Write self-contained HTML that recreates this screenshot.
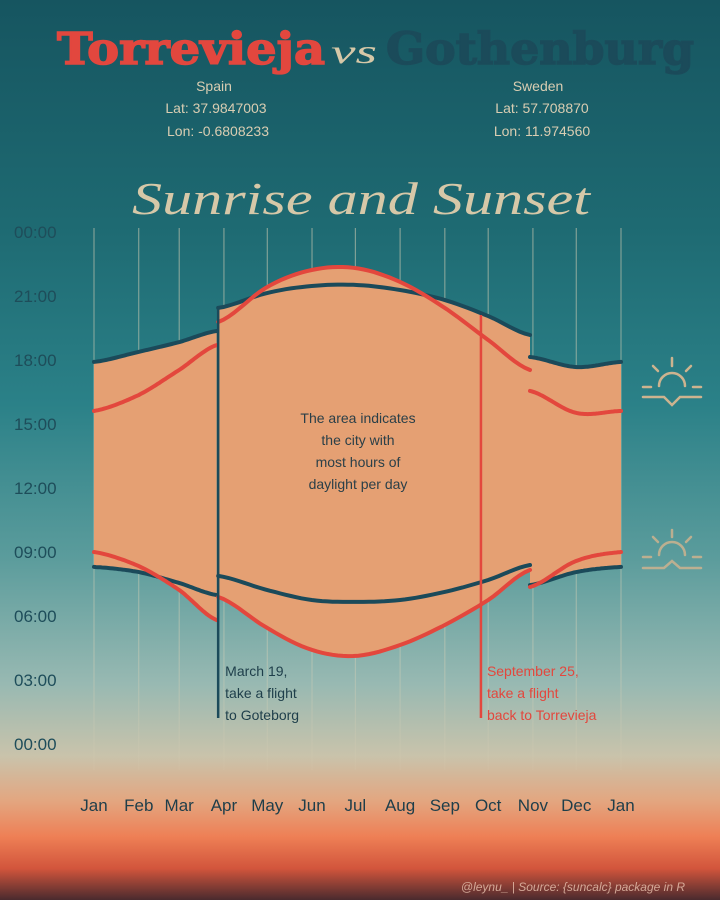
<!DOCTYPE html>
<html><head><meta charset="utf-8">
<style>
html,body{margin:0;padding:0;}
body{width:720px;height:900px;overflow:hidden;font-family:"Liberation Sans",sans-serif;}
</style></head>
<body>
<svg id="chart" width="720" height="900" viewBox="0 0 720 900" xmlns="http://www.w3.org/2000/svg">
<defs>
<linearGradient id="bg" x1="0" y1="0" x2="0" y2="1">
<stop offset="0" stop-color="#165560"/>
<stop offset="0.25" stop-color="#1e6a72"/>
<stop offset="0.45" stop-color="#2b8188"/>
<stop offset="0.62" stop-color="#5b9c9c"/>
<stop offset="0.76" stop-color="#98b9b2"/>
<stop offset="0.84" stop-color="#c9c3ab"/>
<stop offset="0.89" stop-color="#e3a680"/>
<stop offset="0.93" stop-color="#ee7f55"/>
<stop offset="0.965" stop-color="#d2553c"/>
<stop offset="1" stop-color="#4a2a2e"/>
</linearGradient>
<linearGradient id="gridfade" x1="0" y1="228" x2="0" y2="770" gradientUnits="userSpaceOnUse">
<stop offset="0" stop-color="#e0d4b8" stop-opacity="0.6"/>
<stop offset="0.8" stop-color="#e0d4b8" stop-opacity="0.45"/>
<stop offset="1" stop-color="#e0d4b8" stop-opacity="0.1"/>
</linearGradient>
</defs>
<rect x="0" y="0" width="720" height="900" fill="url(#bg)"/>

<text x="57" y="64" textLength="268" lengthAdjust="spacingAndGlyphs" font-family="'DejaVu Serif',serif" font-weight="bold" font-size="44" fill="#e2473e" stroke="#e2473e" stroke-width="1.5">Torrevieja</text>
<text x="331" y="63" textLength="46" lengthAdjust="spacingAndGlyphs" font-family="'Liberation Serif',serif" font-style="italic" font-size="34" fill="#d6c8a8">vs</text>
<text x="386" y="64" textLength="308" lengthAdjust="spacingAndGlyphs" font-family="'DejaVu Serif',serif" font-weight="bold" font-size="44" fill="#1b4b5a" stroke="#1b4b5a" stroke-width="1.5">Gothenburg</text>

<g font-size="14" fill="#d9cdb2" text-anchor="middle">
<text x="214" y="91">Spain</text>
<text x="216" y="113">Lat: 37.9847003</text>
<text x="218" y="136">Lon: -0.6808233</text>
</g>
<g font-size="14" fill="#d9cdb2" text-anchor="middle">
<text x="538" y="91">Sweden</text>
<text x="542" y="113">Lat: 57.708870</text>
<text x="542" y="136">Lon: 11.974560</text>
</g>
<text x="132" y="214" textLength="458" lengthAdjust="spacingAndGlyphs" font-family="'Liberation Serif',serif" font-style="italic" font-size="46" fill="#d6c8a8">Sunrise and Sunset</text>

<g id="grid"></g>
<g id="fill"></g>
<g id="lines"></g>
<g id="axes"></g>

<g stroke="#cdb38f" stroke-width="2.5" fill="none" stroke-linecap="round">
<path d="M659 386 A13 13 0 0 1 685 386"/>
<line x1="672" y1="358" x2="672" y2="366"/>
<line x1="653" y1="366" x2="658" y2="371"/>
<line x1="691" y1="366" x2="686" y2="371"/>
<line x1="643" y1="387" x2="651" y2="387"/>
<line x1="693" y1="387" x2="701" y2="387"/>
<path d="M643 397 L664 397 L672 405 L680 397 L701 397"/>
</g>
<g stroke="#cdb38f" stroke-width="2.5" fill="none" stroke-linecap="round" opacity="0.85">
<path d="M659 555 A13 13 0 0 1 685 555"/>
<line x1="672" y1="530" x2="672" y2="537"/>
<line x1="653" y1="537" x2="658" y2="542"/>
<line x1="691" y1="537" x2="686" y2="542"/>
<line x1="643" y1="557" x2="651" y2="557"/>
<line x1="693" y1="557" x2="701" y2="557"/>
<path d="M643 568 L664 568 L672 561 L680 568 L701 568"/>
</g>

<text x="685" y="891" text-anchor="end" font-size="12" font-style="italic" fill="#e9c3b0" opacity="0.8">@leynu_ | Source: {suncalc} package in R</text>
</svg>
<script>
// ---- data ----
const monthLabels = ["Jan","Feb","Mar","Apr","May","Jun","Jul","Aug","Sep","Oct","Nov","Dec","Jan"];
const monthDays = [0,31,59,90,120,151,181,212,243,273,304,334,365];
const yTickLabels = ["00:00","03:00","06:00","09:00","12:00","15:00","18:00","21:00","00:00"];
const yTickValues = [0,3,6,9,12,15,18,21,24];
// segments split by daylight-saving changes (day of year)
const seg1Days = [0,31,59,85];
const seg2Days = [86,120,151,181,212,243,273,302];
const seg3Days = [302,334,365];
const torreSunset1 = [15.61,16.36,17.53,18.70];
const torreSunrise1 = [9.0,8.34,7.22,5.81];
const gothSunset1 = [17.91,18.38,18.84,19.36];
const gothSunrise1 = [8.30,8.06,7.55,6.98];
const torreSunset2 = [19.78,21.42,22.22,22.31,21.66,20.44,18.94,17.53];
const torreSunrise2 = [6.89,5.44,4.41,4.13,4.64,5.58,6.75,8.16];
const gothSunset2 = [20.44,21.14,21.47,21.52,21.28,20.81,20.06,19.17];
const gothSunrise2 = [7.88,7.22,6.75,6.66,6.75,7.13,7.69,8.39];
const torreSunset3 = [16.55,15.52,15.61];
const torreSunrise3 = [7.36,8.58,9.0];
const gothSunset3 = [18.14,17.67,17.91];
const gothSunrise3 = [7.45,8.06,8.30];
const flightOutDay = 86;
const flightBackDay = 268;

// ---- scales ----
const NS="http://www.w3.org/2000/svg";
function xS(d){return 94 + d/365*(621-94);}
function yS(h){return 744 - h*(64/3);}
function mk(tag,attrs,parent){const e=document.createElementNS(NS,tag);for(const k in attrs)e.setAttribute(k,attrs[k]);parent.appendChild(e);return e;}
function interp(days,vals,d){
  let i=0;while(i<days.length-2&&d>days[i+1])i++;
  const t=(d-days[i])/(days[i+1]-days[i]);
  const p0=vals[Math.max(i-1,0)],p1=vals[i],p2=vals[i+1],p3=vals[Math.min(i+2,vals.length-1)];
  const t2=t*t,t3=t2*t;
  return 0.5*((2*p1)+(-p0+p2)*t+(2*p0-5*p1+4*p2-p3)*t2+(-p0+3*p1-3*p2+p3)*t3);
}
function sample(days,vals){const pts=[];const a=days[0],b=days[days.length-1];for(let k=0;k<=60;k++){const d=a+(b-a)*k/60;pts.push([d,interp(days,vals,d)]);}return pts;}

const grid=document.getElementById('grid');
monthDays.forEach((d,i)=>{
  const l=mk('rect',{x:xS(d)-0.5,y:228,width:1,height:542,fill:'url(#gridfade)'},grid);
  
  
});
const axes=document.getElementById('axes');
yTickValues.forEach((v,i)=>{
  const t=mk('text',{x:14,y:yS(v)+6,'font-size':17,fill:'#1e4d5a'},axes);
  t.textContent=yTickLabels[i];
  
  
});
monthDays.forEach((d,i)=>{
  const t=mk('text',{x:xS(d),y:811,'font-size':17,fill:'#1e3e4a','text-anchor':'middle'},axes);
  t.textContent=monthLabels[i];
  
  
});

const segs=[
 [seg1Days,torreSunset1,torreSunrise1,gothSunset1,gothSunrise1],
 [seg2Days,torreSunset2,torreSunrise2,gothSunset2,gothSunrise2],
 [seg3Days,torreSunset3,torreSunrise3,gothSunset3,gothSunrise3]];
const fillG=document.getElementById('fill'), linesG=document.getElementById('lines');
function pathOf(pts){return pts.map((p,i)=>(i?'L':'M')+xS(p[0]).toFixed(1)+' '+yS(p[1]).toFixed(1)).join(' ');}
segs.forEach(s=>{
  const [days,ts,tr,gs,gr]=s;
  const a=sample(days,ts),b=sample(days,tr),c=sample(days,gs),e=sample(days,gr);
  const top=a.map((p,i)=>[p[0],Math.max(p[1],c[i][1])]);
  const bot=b.map((p,i)=>[p[0],Math.min(p[1],e[i][1])]).reverse();
  const f=mk('path',{d:pathOf(top.concat(bot))+'Z',fill:'#e5a073'},fillG);
  
  
  [[c,'#1b4a5a','gothenburg-sunset-line'],[e,'#1b4a5a','gothenburg-sunrise-line'],[a,'#e3473d','torrevieja-sunset-line'],[b,'#e3473d','torrevieja-sunrise-line']].forEach(q=>{
    const p=mk('path',{d:pathOf(q[0]),fill:'none',stroke:q[1],'stroke-width':4,'stroke-linecap':'round'},linesG);
    
    
  });
});

const svg=document.getElementById('chart');
const fo=mk('line',{x1:xS(flightOutDay),x2:xS(flightOutDay),y1:yS(interp(seg2Days,gothSunset2,flightOutDay))-2,y2:718,stroke:'#1b4a5a','stroke-width':2.5},svg);


const fb=mk('line',{x1:xS(flightBackDay),x2:xS(flightBackDay),y1:315,y2:718,stroke:'#e3473d','stroke-width':2.5},svg);


function note(lines,x,y,color,name){
  const g=mk('text',{x:x,y:y,'font-size':14,fill:color},svg);
  
  
  lines.forEach((t,i)=>{const s=mk('tspan',{x:x,dy:i?22:0},g);s.textContent=t;});
}
note(["March 19,","take a flight","to Goteborg"],xS(flightOutDay)+7,676,'#1e3e4a','flight-out-annotation');
note(["September 25,","take a flight","back to Torrevieja"],xS(flightBackDay)+6,676,'#e3473d','flight-back-annotation');
const c=mk('text',{x:358,y:423,'font-size':14,fill:'#2a3f48','text-anchor':'middle'},svg);


["The area indicates","the city with","most hours of","daylight per day"].forEach((t,i)=>{const s=mk('tspan',{x:358,dy:i?22:0},c);s.textContent=t;});
</script>
</body></html>
